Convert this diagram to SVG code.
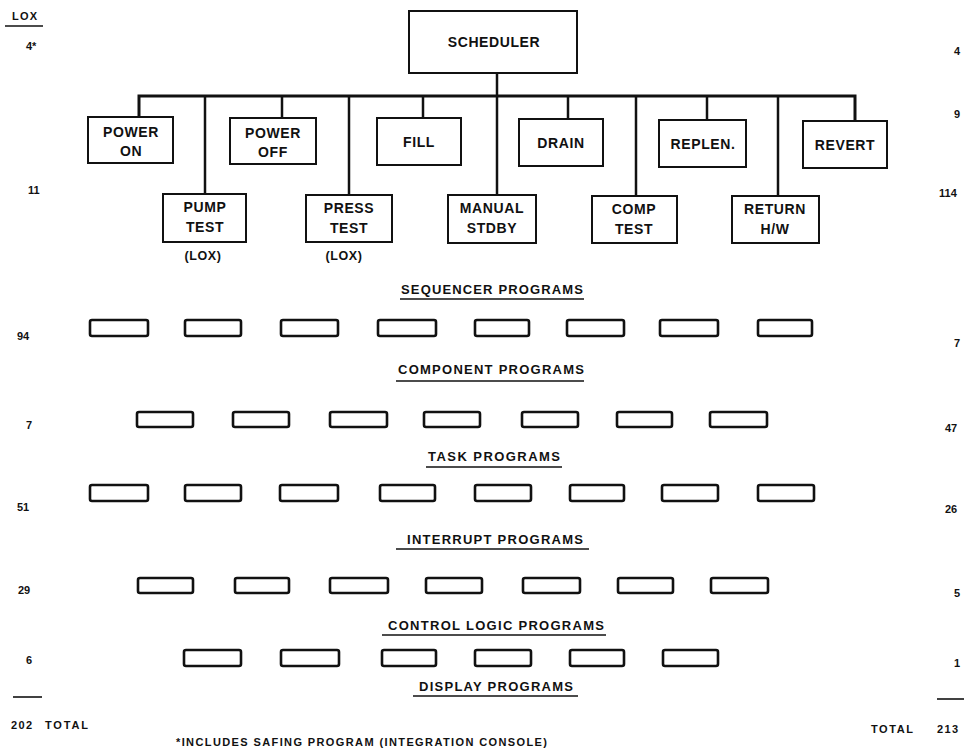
<svg xmlns="http://www.w3.org/2000/svg" width="964" height="750" viewBox="0 0 964 750">
  <style>
    text { font-family: "Liberation Sans", Arial, sans-serif; font-weight: bold; fill: #111; }
    .lbl { font-size: 14px; text-anchor: middle; letter-spacing: 0.6px; }
    .sec { font-size: 13px; }
    .num { font-size: 11px; }
    .box { fill: #fff; stroke: #111; stroke-width: 2; }
    .prog { fill: #fff; stroke: #111; stroke-width: 2.6; }
    .bus { fill: none; stroke: #111; stroke-width: 3; }
    .drop { fill: none; stroke: #111; stroke-width: 2.5; }
    .rule { stroke: #111; stroke-width: 1.6; }
  </style>

  <!-- connectors: scheduler stem, bus and drops -->
  <g id="connectors">
    <line class="drop" x1="497" y1="73" x2="497" y2="96"/>
    <polyline class="bus" points="139,118 139,96 855,96 855,121"/>
    <line class="drop" x1="205" y1="96" x2="205" y2="194"/>
    <line class="drop" x1="282" y1="96" x2="282" y2="118"/>
    <line class="drop" x1="349" y1="96" x2="349" y2="195"/>
    <line class="drop" x1="423" y1="96" x2="423" y2="118"/>
    <line class="drop" x1="497" y1="96" x2="497" y2="195"/>
    <line class="drop" x1="568" y1="96" x2="568" y2="119"/>
    <line class="drop" x1="636" y1="96" x2="636" y2="196"/>
    <line class="drop" x1="707" y1="96" x2="707" y2="120"/>
    <line class="drop" x1="778" y1="96" x2="778" y2="196"/>
  </g>

  <g id="scheduler">
    <rect class="box" x="409" y="11" width="168" height="62"/>
    <text class="lbl" x="494" y="47">SCHEDULER</text>
  </g>

  <!-- upper row of sequencer nodes -->
  <g id="power-on">
    <rect class="box" x="88" y="117" width="85" height="46"/>
    <text class="lbl" x="131" y="137">POWER</text>
    <text class="lbl" x="131" y="156">ON</text>
  </g>
  <g id="power-off">
    <rect class="box" x="230" y="118" width="86" height="46"/>
    <text class="lbl" x="273" y="138">POWER</text>
    <text class="lbl" x="273" y="157">OFF</text>
  </g>
  <g id="fill">
    <rect class="box" x="377" y="118" width="84" height="47"/>
    <text class="lbl" x="419" y="147">FILL</text>
  </g>
  <g id="drain">
    <rect class="box" x="519" y="119" width="84" height="47"/>
    <text class="lbl" x="561" y="148">DRAIN</text>
  </g>
  <g id="replen">
    <rect class="box" x="659" y="120" width="87" height="47"/>
    <text class="lbl" x="703" y="149">REPLEN.</text>
  </g>
  <g id="revert">
    <rect class="box" x="803" y="121" width="84" height="47"/>
    <text class="lbl" x="845" y="150">REVERT</text>
  </g>

  <!-- lower row of sequencer nodes -->
  <g id="pump-test">
    <rect class="box" x="163" y="194" width="83" height="48"/>
    <text class="lbl" x="205" y="212">PUMP</text>
    <text class="lbl" x="205" y="232">TEST</text>
    <text class="lbl" x="203" y="260" style="font-size:12.5px">(LOX)</text>
  </g>
  <g id="press-test">
    <rect class="box" x="306" y="195" width="86" height="47"/>
    <text class="lbl" x="349" y="213">PRESS</text>
    <text class="lbl" x="349" y="233">TEST</text>
    <text class="lbl" x="344" y="260" style="font-size:12.5px">(LOX)</text>
  </g>
  <g id="manual-stdby">
    <rect class="box" x="448" y="195" width="88" height="48"/>
    <text class="lbl" x="492" y="213">MANUAL</text>
    <text class="lbl" x="492" y="233">STDBY</text>
  </g>
  <g id="comp-test">
    <rect class="box" x="592" y="196" width="85" height="47"/>
    <text class="lbl" x="634" y="214">COMP</text>
    <text class="lbl" x="634" y="234">TEST</text>
  </g>
  <g id="return-hw">
    <rect class="box" x="732" y="196" width="87" height="47"/>
    <text class="lbl" x="775" y="214">RETURN</text>
    <text class="lbl" x="775" y="234">H/W</text>
  </g>

  <!-- program level headings -->
  <g id="headings">
    <text class="sec" x="401" y="294" textLength="182" lengthAdjust="spacing">SEQUENCER PROGRAMS</text>
    <line class="rule" x1="400" y1="299" x2="584" y2="299"/>
    <text class="sec" x="398" y="374" textLength="186" lengthAdjust="spacing">COMPONENT PROGRAMS</text>
    <line class="rule" x1="396" y1="381" x2="584" y2="381"/>
    <text class="sec" x="428" y="461" textLength="132" lengthAdjust="spacing">TASK PROGRAMS</text>
    <line class="rule" x1="426" y1="467" x2="562" y2="467"/>
    <text class="sec" x="407" y="544" textLength="176" lengthAdjust="spacing">INTERRUPT PROGRAMS</text>
    <line class="rule" x1="396" y1="549" x2="589" y2="549"/>
    <text class="sec" x="388" y="630" textLength="216" lengthAdjust="spacing">CONTROL LOGIC PROGRAMS</text>
    <line class="rule" x1="382" y1="635" x2="606" y2="635"/>
    <text class="sec" x="419" y="691" textLength="154" lengthAdjust="spacing">DISPLAY PROGRAMS</text>
    <line class="rule" x1="413" y1="696" x2="578" y2="696"/>
  </g>

  <!-- program slots -->
  <g id="sequencer-programs">
    <rect class="prog" x="90" y="320" width="58" height="16" rx="2"/>
    <rect class="prog" x="185" y="320" width="56" height="16" rx="2"/>
    <rect class="prog" x="281" y="320" width="57" height="16" rx="2"/>
    <rect class="prog" x="378" y="320" width="58" height="16" rx="2"/>
    <rect class="prog" x="475" y="320" width="54" height="16" rx="2"/>
    <rect class="prog" x="567" y="320" width="57" height="16" rx="2"/>
    <rect class="prog" x="660" y="320" width="58" height="16" rx="2"/>
    <rect class="prog" x="758" y="320" width="54" height="16" rx="2"/>
  </g>
  <g id="component-programs">
    <rect class="prog" x="137" y="412" width="56" height="15" rx="2"/>
    <rect class="prog" x="233" y="412" width="56" height="15" rx="2"/>
    <rect class="prog" x="330" y="412" width="57" height="15" rx="2"/>
    <rect class="prog" x="424" y="412" width="56" height="15" rx="2"/>
    <rect class="prog" x="522" y="412" width="56" height="15" rx="2"/>
    <rect class="prog" x="617" y="412" width="55" height="15" rx="2"/>
    <rect class="prog" x="710" y="412" width="57" height="15" rx="2"/>
  </g>
  <g id="task-programs">
    <rect class="prog" x="90" y="485" width="58" height="16" rx="2"/>
    <rect class="prog" x="185" y="485" width="56" height="16" rx="2"/>
    <rect class="prog" x="280" y="485" width="58" height="16" rx="2"/>
    <rect class="prog" x="380" y="485" width="55" height="16" rx="2"/>
    <rect class="prog" x="475" y="485" width="56" height="16" rx="2"/>
    <rect class="prog" x="570" y="485" width="54" height="16" rx="2"/>
    <rect class="prog" x="662" y="485" width="56" height="16" rx="2"/>
    <rect class="prog" x="758" y="485" width="56" height="16" rx="2"/>
  </g>
  <g id="interrupt-programs">
    <rect class="prog" x="138" y="578" width="55" height="15" rx="2"/>
    <rect class="prog" x="235" y="578" width="54" height="15" rx="2"/>
    <rect class="prog" x="330" y="578" width="58" height="15" rx="2"/>
    <rect class="prog" x="426" y="578" width="56" height="15" rx="2"/>
    <rect class="prog" x="523" y="578" width="57" height="15" rx="2"/>
    <rect class="prog" x="618" y="578" width="55" height="15" rx="2"/>
    <rect class="prog" x="711" y="578" width="57" height="15" rx="2"/>
  </g>
  <g id="control-logic-programs">
    <rect class="prog" x="184" y="650" width="57" height="16" rx="2"/>
    <rect class="prog" x="281" y="650" width="58" height="16" rx="2"/>
    <rect class="prog" x="382" y="650" width="54" height="16" rx="2"/>
    <rect class="prog" x="475" y="650" width="56" height="16" rx="2"/>
    <rect class="prog" x="570" y="650" width="54" height="16" rx="2"/>
    <rect class="prog" x="663" y="650" width="55" height="16" rx="2"/>
  </g>

  <!-- LOX counts (left column) -->
  <g id="lox-counts">
    <text class="num" x="12" y="20" textLength="25" lengthAdjust="spacing">LOX</text>
    <line class="rule" x1="5" y1="26" x2="43" y2="26"/>
    <text class="num" x="26" y="50">4*</text>
    <text class="num" x="28" y="194">11</text>
    <text class="num" x="17" y="340">94</text>
    <text class="num" x="26" y="429">7</text>
    <text class="num" x="17" y="511">51</text>
    <text class="num" x="18" y="594">29</text>
    <text class="num" x="26" y="664">6</text>
    <line class="rule" x1="13" y1="697" x2="42" y2="697"/>
    <text class="num" x="11" y="729" textLength="21" lengthAdjust="spacing">202</text>
    <text class="num" x="45" y="729" textLength="43" lengthAdjust="spacing">TOTAL</text>
  </g>

  <!-- right column counts -->
  <g id="right-counts">
    <text class="num" x="954" y="55">4</text>
    <text class="num" x="954" y="118">9</text>
    <text class="num" x="939" y="197">114</text>
    <text class="num" x="954" y="347">7</text>
    <text class="num" x="945" y="432">47</text>
    <text class="num" x="945" y="513">26</text>
    <text class="num" x="954" y="597">5</text>
    <text class="num" x="954" y="667">1</text>
    <line class="rule" x1="937" y1="699" x2="964" y2="699"/>
    <text class="num" x="871" y="733" textLength="42" lengthAdjust="spacing">TOTAL</text>
    <text class="num" x="937" y="733" textLength="21" lengthAdjust="spacing">213</text>
  </g>

  <text class="num" x="176" y="746" textLength="371" lengthAdjust="spacing">*INCLUDES SAFING PROGRAM (INTEGRATION CONSOLE)</text>
</svg>
